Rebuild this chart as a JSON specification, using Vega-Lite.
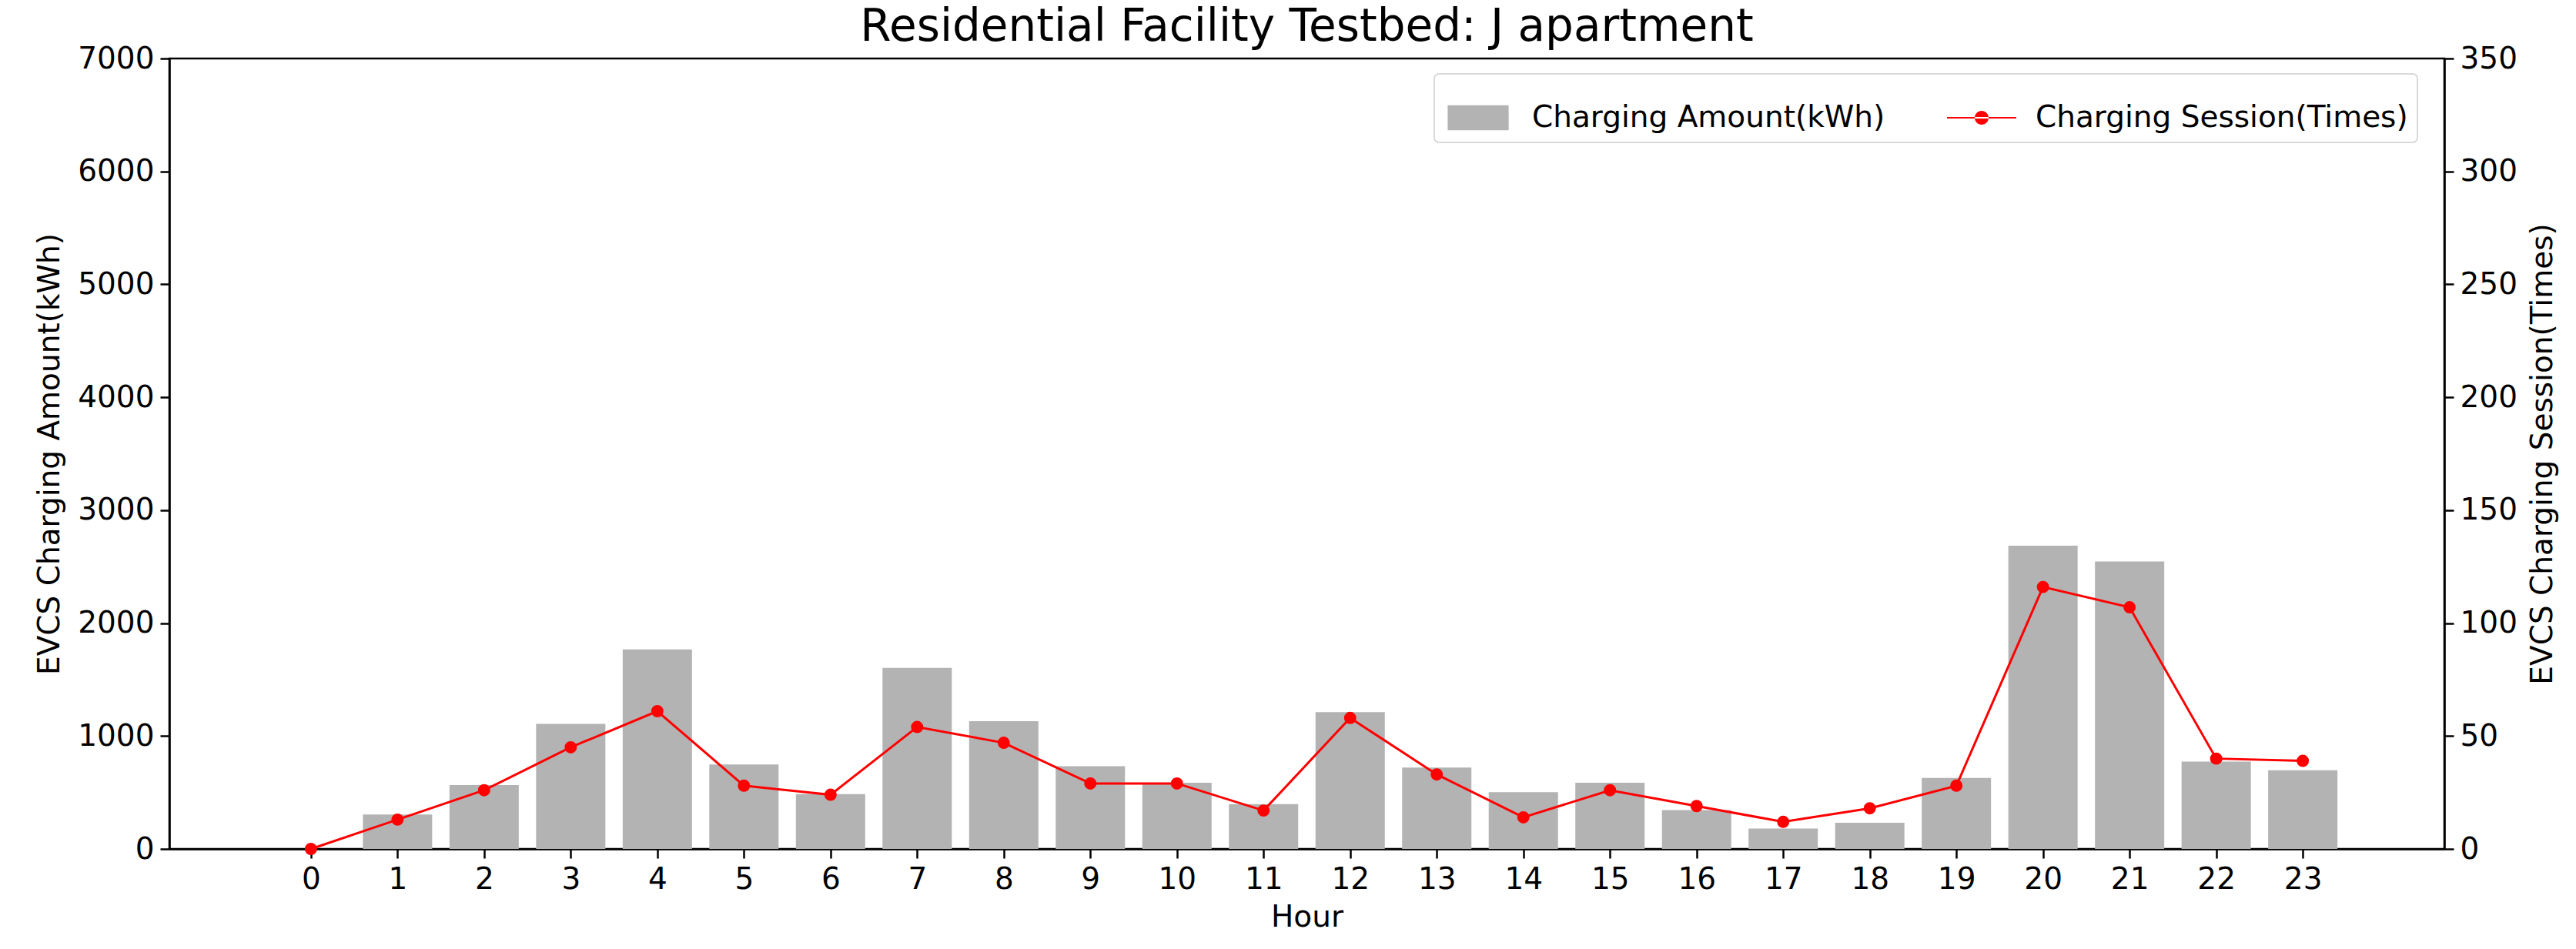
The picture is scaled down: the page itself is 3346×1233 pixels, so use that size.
{
  "$schema": "https://vega.github.io/schema/vega-lite/v6.json",
  "autosize": {"type": "none"},
  "width": 2955,
  "height": 1027,
  "padding": {"left": 220, "top": 76, "right": 171, "bottom": 130},
  "background": "white",
  "title": {"text": "Residential Facility Testbed: J apartment", "font": "DejaVu Sans", "fontSize": 58, "fontWeight": "normal", "color": "#000", "anchor": "middle", "frame": "group", "offset": 4, "baseline": "alphabetic", "dy": 58},
  "config": {
    "font": "DejaVu Sans",
    "view": {"stroke": "#000", "strokeWidth": 2.5},
    "axis": {"labelFont": "DejaVu Sans", "titleFont": "DejaVu Sans", "labelFontSize": 39, "titleFontSize": 39, "titleFontWeight": "normal", "labelColor": "#000", "titleColor": "#000", "domainColor": "#000", "domainWidth": 2.5, "tickColor": "#000", "tickWidth": 2.5, "tickSize": 12, "labelPadding": 8, "grid": false},
    "legend": {"labelFont": "DejaVu Sans", "labelFontSize": 39, "labelColor": "#000", "strokeWidth": 2, "labelLimit": 1000}
  },
  "data": {"values": [
    {"hour": 0, "amount": 0, "sessions": 0},
    {"hour": 1, "amount": 305, "sessions": 13},
    {"hour": 2, "amount": 566, "sessions": 26},
    {"hour": 3, "amount": 1108, "sessions": 45},
    {"hour": 4, "amount": 1767, "sessions": 61},
    {"hour": 5, "amount": 748, "sessions": 28},
    {"hour": 6, "amount": 485, "sessions": 24},
    {"hour": 7, "amount": 1603, "sessions": 54},
    {"hour": 8, "amount": 1132, "sessions": 47},
    {"hour": 9, "amount": 732, "sessions": 29},
    {"hour": 10, "amount": 587, "sessions": 29},
    {"hour": 11, "amount": 397, "sessions": 17},
    {"hour": 12, "amount": 1212, "sessions": 58},
    {"hour": 13, "amount": 720, "sessions": 33},
    {"hour": 14, "amount": 503, "sessions": 14},
    {"hour": 15, "amount": 587, "sessions": 26},
    {"hour": 16, "amount": 344, "sessions": 19},
    {"hour": 17, "amount": 180, "sessions": 12},
    {"hour": 18, "amount": 231, "sessions": 18},
    {"hour": 19, "amount": 628, "sessions": 28},
    {"hour": 20, "amount": 2686, "sessions": 116},
    {"hour": 21, "amount": 2545, "sessions": 107},
    {"hour": 22, "amount": 774, "sessions": 40},
    {"hour": 23, "amount": 697, "sessions": 39}
  ]},
  "encoding": {
    "x": {"field": "hour", "type": "quantitative", "title": "Hour",
      "scale": {"domain": [-1.59, 24.59], "nice": false, "zero": false},
      "axis": {"values": [0,1,2,3,4,5,6,7,8,9,10,11,12,13,14,15,16,17,18,19,20,21,22,23], "format": "d", "titlePadding": 10}}
  },
  "layer": [
    {
      "mark": {"type": "bar", "width": 90},
      "encoding": {
        "y": {"field": "amount", "type": "quantitative", "title": "EVCS Charging Amount(kWh)",
          "scale": {"domain": [0, 7000], "nice": false},
          "axis": {"values": [0,1000,2000,3000,4000,5000,6000,7000], "format": "d", "orient": "left", "titlePadding": 16}},
        "color": {"datum": "Charging Amount(kWh)", "type": "nominal",
          "scale": {"domain": ["Charging Amount(kWh)", "Charging Session(Times)"], "range": ["#b3b3b3", "#ff0000"]},
          "legend": {"title": null, "orient": "none", "legendX": 1643, "legendY": 20, "direction": "horizontal", "columns": 2,
            "columnPadding": 80, "labelOffset": 25, "symbolSize": 8100, "padding": 12,
            "strokeColor": "#d9d9d9", "cornerRadius": 6, "fillColor": "white",
            "encode": {"symbols": {"update": {
              "shape": {"signal": "datum.value === 'Charging Amount(kWh)' ? 'M-0.88,-0.36L0.88,-0.36L0.88,0.36L-0.88,0.36Z' : 'M-1,-0.02L1,-0.02L1,0.02L-1,0.02Z M-0.2,0 A0.2,0.2 0 1,0 0.2,0 A0.2,0.2 0 1,0 -0.2,0Z'"},
              "fill": {"signal": "datum.value === 'Charging Amount(kWh)' ? '#b3b3b3' : '#ff0000'"},
              "stroke": {"value": "transparent"},
              "strokeWidth": {"value": 0},
              "opacity": {"value": 1},
              "fillOpacity": {"value": 1}
            }}}}}
      }
    },
    {
      "mark": {"type": "line", "strokeWidth": 3, "point": {"filled": true, "size": 254}},
      "encoding": {
        "y": {"field": "sessions", "type": "quantitative", "title": "EVCS Charging Session(Times)",
          "scale": {"domain": [0, 350], "nice": false},
          "axis": {"values": [0,50,100,150,200,250,300,350], "format": "d", "orient": "right", "titlePadding": 14, "titleAngle": 270, "titleBaseline": "top"}},
        "color": {"datum": "Charging Session(Times)", "type": "nominal"}
      }
    }
  ],
  "resolve": {"scale": {"y": "independent"}}
}
